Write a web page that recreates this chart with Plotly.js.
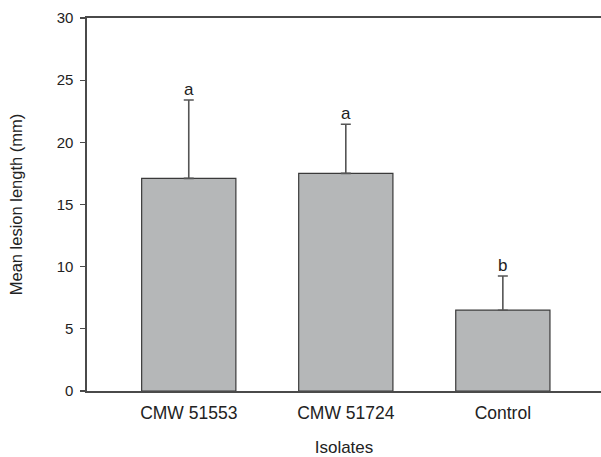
<!DOCTYPE html>
<html>
<head>
<meta charset="utf-8">
<script src="https://cdn.plot.ly/plotly-3.0.1.min.js"></script>
<style>html,body{margin:0;padding:0;background:#fff;}#chart{width:601px;height:457px;}</style>
</head>
<body>
<div id="chart"></div>
<script>
var categories = ["CMW 51553", "CMW 51724", "Control"];
var meanLesion = [17.1, 17.5, 6.5];
var errorUpper = [6.3, 3.95, 2.75];
var letters = ["a", "a", "b"];
var yTicks = [0, 5, 10, 15, 20, 25, 30];

var font = "Arial, 'Liberation Sans', sans-serif";

var trace = {
  type: "bar",
  x: categories,
  y: meanLesion,
  width: 0.6,
  marker: {color: "#b5b7b8", line: {color: "#3a3a3a", width: 1.2}},
  error_y: {
    type: "data",
    symmetric: false,
    array: errorUpper,
    arrayminus: meanLesion.map(function(){return 0;}),
    color: "#555555",
    thickness: 1.6,
    width: 5
  },
  hoverinfo: "skip"
};

var annotations = categories.map(function(c, i){
  return {
    x: c, y: meanLesion[i] + errorUpper[i],
    xref: "x", yref: "y",
    text: letters[i], showarrow: false,
    yanchor: "bottom", yshift: -1,
    font: {family: font, size: 17, color: "#222"}
  };
});

var layout = {
  width: 601, height: 457,
  margin: {l: 87, r: 0, t: 18, b: 66},
  paper_bgcolor: "#fff", plot_bgcolor: "#fff",
  showlegend: false,
  bargap: 0.4,
  font: {family: font, size: 15, color: "#222"},
  xaxis: {
    range: [-0.648, 2.625],
    showline: true, mirror: true, linecolor: "#4a4a4a", linewidth: 1.6,
    ticks: "", showgrid: false, zeroline: false,
    ticklabelstandoff: 5,
    tickfont: {family: font, size: 17.5, color: "#222"},
    title: {text: "Isolates", font: {family: font, size: 17, color: "#222"}, standoff: 20}
  },
  yaxis: {
    range: [0, 30],
    tickvals: yTicks,
    showline: true, linecolor: "#4a4a4a", linewidth: 1.6,
    ticks: "outside", ticklen: 5, tickcolor: "#4a4a4a", tickwidth: 1.3,
    ticklabelstandoff: 4,
    showgrid: false, zeroline: false,
    tickfont: {family: font, size: 15, color: "#222"},
    title: {text: "Mean lesion length (mm)", font: {family: font, size: 16.5, color: "#222"}, standoff: 30}
  },
  annotations: annotations
};

Plotly.newPlot("chart", [trace], layout, {displayModeBar: false, staticPlot: true});
</script>
</body>
</html>
